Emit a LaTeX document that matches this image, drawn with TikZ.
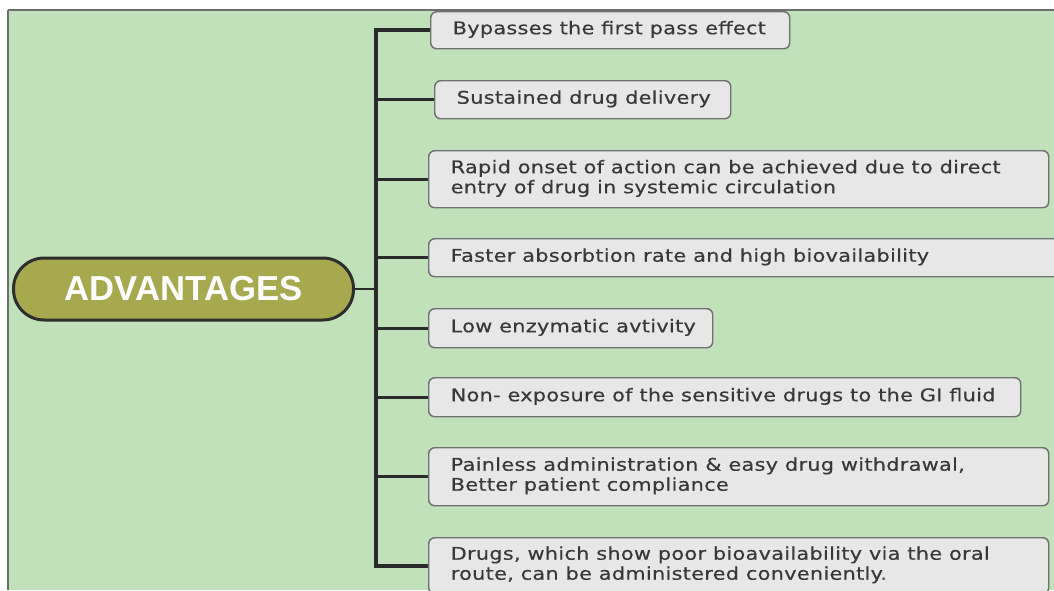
\documentclass[tikz,border=0pt]{standalone}
\usepackage{graphicx}
\usepackage{fontspec}
\setmainfont{DejaVu Sans}
\newfontfamily\boxfamily[LetterSpace=1.5,FakeBold=0.4]{DejaVu Sans}
\newfontfamily\advfamily{Liberation Sans}
\definecolor{bg}{HTML}{C1E1BA}
\definecolor{pillfill}{HTML}{A6A94E}
\definecolor{pillline}{HTML}{2E2E2E}
\definecolor{boxfill}{HTML}{E6E7E6}
\definecolor{boxline}{HTML}{707070}
\definecolor{txt}{HTML}{383838}
\definecolor{linecol}{HTML}{2B2B2B}
\definecolor{frame}{HTML}{6E6E6E}
\newcommand\sx[1]{\scalebox{1.19}[1]{\begin{tabular}{@{}l@{}}#1\end{tabular}}}
\begin{document}
\begin{tikzpicture}[x=0.75pt,y=-0.75pt,
  abox/.style={draw=boxline, fill=boxfill, rounded corners=4.5pt, line width=1.1pt,
    anchor=north west, inner xsep=16.5pt, inner ysep=0pt, align=left, text=txt,
    font=\boxfamily\fontsize{13.1pt}{15pt}\selectfont},
  pill/.style={draw=pillline, fill=pillfill, line width=2.25pt, rounded corners=23pt,
    minimum width=255pt, minimum height=46.5pt, inner sep=0pt, text=white,
    font=\advfamily\bfseries\fontsize{26pt}{30pt}\selectfont},
  spine/.style={draw=linecol, line width=3pt, line join=miter},
  branch/.style={draw=linecol, line width=2.25pt},
  thinbranch/.style={draw=linecol, line width=1.6pt}]
\clip (0,0) rectangle (1054,590);
\fill[white] (0,0) rectangle (1054,590);
\fill[bg] (8,10) rectangle (1054,590);
\draw[frame, line width=1.5pt] (8,10) -- (1054,10);
\draw[frame, line width=0.9pt] (8,10) -- (8,590);

\node[pill] (adv) at (183.5,289) {ADVANTAGES};

\node[abox, text width=236.25pt, minimum height=27.75pt] (b1) at (430,11) {\sx{Bypasses the first pass effect}};
\node[abox, text width=189pt, minimum height=28.5pt] (b2) at (434,80) {\sx{Sustained drug delivery}};
\node[abox, text width=432pt, minimum height=42.75pt] (b3) at (428,150) {\sx{Rapid onset of action can be achieved due to direct\\entry of drug in systemic circulation}};
\node[abox, text width=447pt, minimum height=28.5pt] (b4) at (428,238) {\sx{Faster absorbtion rate and high biovailability}};
\node[abox, text width=180pt, minimum height=29.25pt] (b5) at (428,308) {\sx{Low enzymatic avtivity}};
\node[abox, text width=411pt, minimum height=29.25pt] (b6) at (428,377) {\sx{Non- exposure of the sensitive drugs to the GI fluid}};
\node[abox, text width=432pt, minimum height=43.5pt] (b7) at (428,447) {\sx{Painless administration \& easy drug withdrawal,\\Better patient compliance}};
\node[abox, text width=432pt, minimum height=42pt] (b8) at (428,537) {\sx{Drugs, which show poor bioavailability via the oral\\route, can be administered conveniently.}};

\path (b1.west -| 376,0) coordinate (top);
\path (b8.west -| 376,0) coordinate (bot);
\draw[spine] (b1.west) -- (top) -- (bot) -- (b8.west);
\foreach \i in {2,...,7} {\draw[branch] (b\i.west) -- (b\i.west -| top);}
\draw[thinbranch] (adv.east) -- (adv.east -| top);
\end{tikzpicture}
\end{document}
